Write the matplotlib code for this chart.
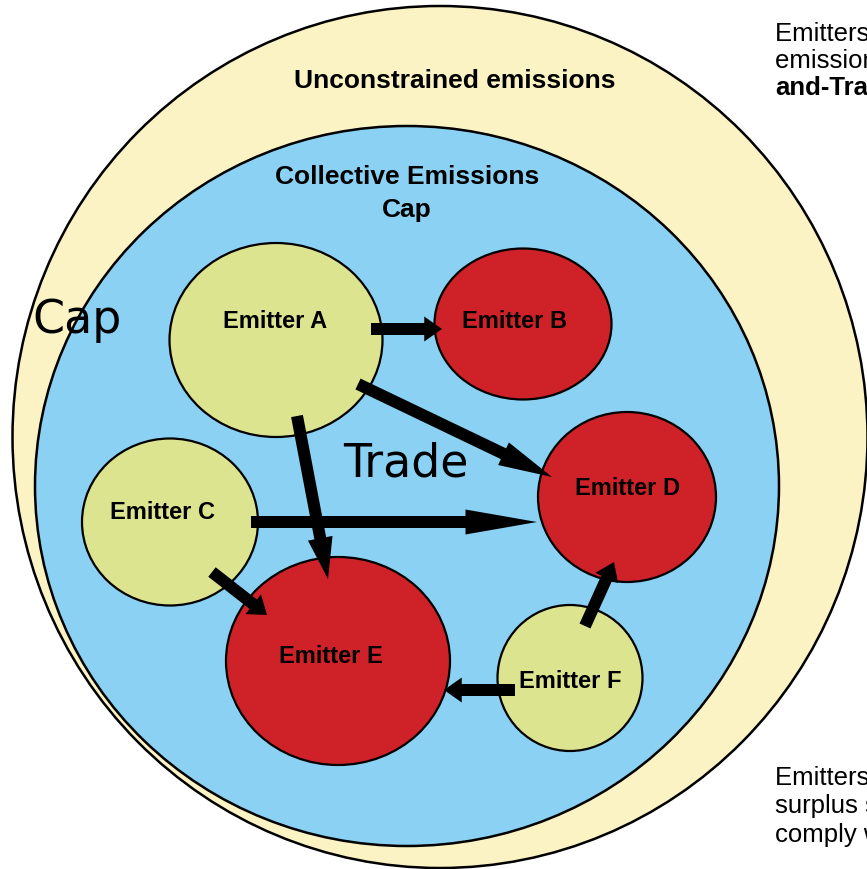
import matplotlib.pyplot as plt
from matplotlib.patches import Ellipse, FancyArrow
import numpy as np

# emitter bubbles (pixel space, y down)
emitter_names = ['Emitter A', 'Emitter B', 'Emitter C', 'Emitter D', 'Emitter E', 'Emitter F']
emitter_x = [276, 523, 170, 627, 338, 570]
emitter_y = [341, 325, 523, 498, 662, 679]
emitter_w = [213, 177, 176, 178, 224, 145]
emitter_h = [194, 151, 167, 170, 208, 146]
emitter_kind = ['seller', 'buyer', 'seller', 'buyer', 'buyer', 'seller']
label_x = [275, 515, 163, 628, 331, 570]
label_y = [322, 322, 513, 489, 657, 682]

# trades: start and tip of each arrow
trade_from = [(371, 330), (358, 385), (297, 417), (251, 523), (212, 573), (585, 627), (515, 691)]
trade_to = [(442, 330), (552, 478), (328, 580), (537, 523), (267, 616), (614, 563), (444, 691)]

kind_color = {'seller': '#dce48f', 'buyer': '#cf2128'}

fig = plt.figure(figsize=(8.67, 8.70), dpi=100)
ax = fig.add_axes([0, 0, 1, 1])
ax.set_xlim(0, 867)
ax.set_ylim(870, 0)
ax.axis('off')

# outer and inner rings
ax.add_patch(Ellipse((440, 438), 855, 862, facecolor='#fbf3c4', edgecolor='black', lw=1.8))
ax.add_patch(Ellipse((407, 487), 744, 720, facecolor='#8ad1f3', edgecolor='black', lw=1.8))

for i in range(len(emitter_names)):
    ax.add_patch(Ellipse((emitter_x[i], emitter_y[i]), emitter_w[i], emitter_h[i],
                         facecolor=kind_color[emitter_kind[i]], edgecolor='black', lw=1.6))
    ax.text(label_x[i], label_y[i], emitter_names[i], ha='center', va='center',
            fontsize=17, fontweight='bold', family='Liberation Sans')

for (x0, y0), (x1, y1) in zip(trade_from, trade_to):
    L = np.hypot(x1 - x0, y1 - y0)
    ax.add_patch(FancyArrow(x0, y0, x1 - x0, y1 - y0, width=12, head_width=25,
                            head_length=0.25 * L, length_includes_head=True,
                            color='black', lw=0))

ax.text(455, 81, 'Unconstrained emissions', ha='center', va='center',
        fontsize=19, fontweight='bold', family='Liberation Sans')
ax.text(407, 177, 'Collective Emissions', ha='center', va='center',
        fontsize=19, fontweight='bold', family='Liberation Sans')
ax.text(407, 210, 'Cap', ha='center', va='center',
        fontsize=19, fontweight='bold', family='Liberation Sans')

ax.text(32, 333, 'Cap', ha='left', va='baseline', fontsize=33, family='DejaVu Sans')
ax.text(343, 477, 'Trade', ha='left', va='baseline', fontsize=33, family='DejaVu Sans')

# side notes, running off the right edge as in the source
ax.text(775, 34, 'Emitters with high', ha='left', va='center', fontsize=18.5, family='Liberation Sans')
ax.text(775, 61, 'emissions buy allowances', ha='left', va='center', fontsize=18.5, family='Liberation Sans')
ax.text(775, 88, 'and-Trade', ha='left', va='center', fontsize=18.5, fontweight='bold',
        family='Liberation Sans')
ax.text(775, 778, 'Emitters with a', ha='left', va='center', fontsize=18.5, family='Liberation Sans')
ax.text(775, 806, 'surplus sell allowances', ha='left', va='center', fontsize=18.5, family='Liberation Sans')
ax.text(775, 835, 'comply with', ha='left', va='center', fontsize=18.5, family='Liberation Sans')

fig.savefig('out.png', dpi=100)
